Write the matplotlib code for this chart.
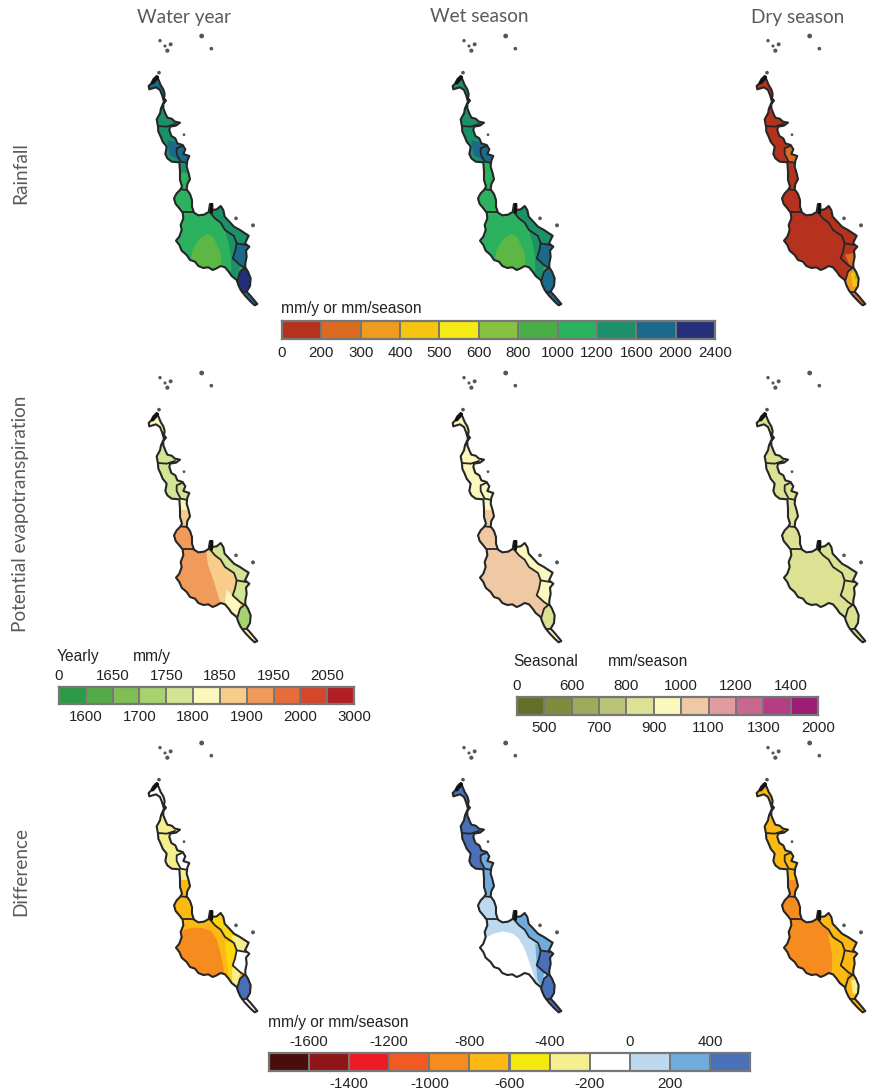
import matplotlib
matplotlib.use("Agg")
import matplotlib.pyplot as plt
from matplotlib.patches import Polygon

W, H = 874, 1090

# legend classes
rain_bounds = ["0", "200", "300", "400", "500", "600", "800", "1000", "1200", "1600", "2000", "2400"]
rain_cols = ["#b5321f", "#dc6b22", "#ee9b1e", "#f7c510", "#f5ea14", "#86c23f", "#49ae47", "#2cb15e", "#1c9068", "#1b6a8c", "#232f78"]
year_bounds = ["0", "1600", "1650", "1700", "1750", "1800", "1850", "1900", "1950", "2000", "2050", "3000"]
year_cols = ["#2b9b46", "#55ab47", "#7fbd55", "#a8d16f", "#d3e495", "#fbf8bd", "#f8cc8a", "#f09a5c", "#e56d3c", "#d4472a", "#b31e23"]
seas_bounds = ["0", "500", "600", "700", "800", "900", "1000", "1100", "1200", "1300", "1400", "2000"]
seas_cols = ["#666f2a", "#7f8b3f", "#9cab5c", "#bac377", "#dde193", "#fbf8bd", "#efc9a4", "#e29b9e", "#ca678e", "#b43d86", "#9c1d74"]
diff_bounds = ["", "-1600", "-1400", "-1200", "-1000", "-800", "-600", "-400", "-200", "0", "200", "400", ""]
diff_cols = ["#4a0c0c", "#8f1616", "#ed1c24", "#f15a22", "#f68b1f", "#fdb913", "#f6e90f", "#f6ef8f", "#ffffff", "#bcd9f0", "#6fabdd", "#4a70b8"]

# catchment outline
outline = [(80,138),(86,150),(92,165),(100,178),(104,192),(102,205),(108,212),(100,222),(100,235),(106,250),
           (112,263),(125,266),(135,275),(150,278),(138,287),(120,290),(118,300),(124,318),(136,325),(142,340),
           (158,345),(166,358),(160,372),(178,378),(172,392),(170,410),(176,430),(180,448),(172,462),(170,478),
           (180,492),(186,510),(186,530),(192,548),(205,556),(222,554),(236,546),(240,522),(247,522),(247,540),
           (260,538),(272,528),(280,540),(284,560),(298,575),(312,590),(330,600),(342,608),(356,617),(345,640),
           (358,650),(348,662),(350,680),(346,700),(346,712),(354,725),(362,745),(360,768),(350,785),(362,798),
           (372,810),(382,822),(374,826),(362,815),(345,797),(332,780),(325,765),(320,750),(305,738),(296,725),
           (285,712),(272,708),(258,716),(248,720),(235,712),(220,714),(205,708),(195,695),(180,690),(170,675),
           (155,662),(148,645),(138,632),(148,620),(155,600),(152,585),(160,565),(158,548),(148,535),(137,522),
           (132,505),(140,490),(150,480),(156,470),(150,450),(150,425),(148,397),(125,395),(112,385),(106,372),
           (110,350),(98,335),(92,320),(85,305),(84,290),(80,268),(90,250),(93,235),(102,215),(96,195),
           (90,180),(78,172),(58,178),(56,168),(64,160),(70,148)]
inner_lines = [[(85,288),(110,290),(135,282)],
               [(158,347),(140,355),(140,372),(152,395),(168,398)],
               [(153,478),(170,480)],
               [(160,545),(190,545)],
               [(238,545),(255,565),(272,578),(285,600),(312,618),(320,640),(315,665),(308,685),(330,705),(345,715)],
               [(320,640),(348,645)],
               [(322,752),(330,725),(345,712)],
               [(335,785),(352,785)]]
islands_x = [90, 105, 122, 112, 215, 244, 87, 162, 318, 369]
islands_y = [32, 48, 43, 62, 18, 56, 128, 314, 565, 586]
islands_s = [6, 5, 8, 9, 12, 7, 7, 4, 7, 8]

# zones the map is coloured by
zones = {
    "top": [(40,120),(125,120),(125,212),(40,212)],
    "up": [(60,212),(160,212),(160,288),(60,288)],
    "mid": [(60,288),(185,288),(185,400),(60,400)],
    "mid_patch": [(112,332),(150,340),(158,347),(140,372),(145,390),(120,375)],
    "mid_r": [(158,347),(140,355),(140,372),(152,395),(168,398),(185,370),(170,340)],
    "neck": [(130,396),(190,396),(190,478),(130,478)],
    "neck_low": [(130,430),(190,430),(190,478),(130,478)],
    "lobe": [(120,478),(200,478),(200,546),(120,546)],
    "main": [(120,546),(238,546),(255,565),(272,578),(285,600),(312,618),(320,640),(315,665),(308,685),(330,705),(345,715),(330,725),(322,755),(120,760)],
    "east1": [(236,515),(238,545),(255,565),(272,578),(285,600),(312,618),(320,640),(348,645),(370,620),(300,515)],
    "east1_low": [(305,596),(362,610),(350,646),(320,640),(312,618)],
    "east2": [(320,640),(315,665),(308,685),(330,705),(345,715),(370,715),(370,640)],
    "east2_patch": [(322,675),(345,670),(350,712),(335,705)],
    "tip": [(345,712),(330,725),(320,755),(335,785),(355,785),(375,720)],
    "tip_core": [(340,730),(360,725),(360,770),(345,770)],
    "tip_spot": [(350,728),(360,728),(360,748),(350,748)],
    "end": [(335,785),(355,785),(395,835),(370,835)],
    "rain_core": [(230,612),(250,622),(272,670),(274,712),(220,716),(185,685),(188,660),(208,628)],
    "rain_east": [(285,600),(315,620),(320,640),(308,685),(330,705),(322,745),(304,735),(304,680),(297,640)],
    "pet_west": [(120,546),(228,546),(232,590),(250,640),(268,700),(280,725),(120,760)],
    "pet_east": [(290,670),(310,690),(330,710),(325,745),(305,732),(285,710)],
    "diff_core": [(165,578),(190,573),(215,573),(242,582),(258,605),(268,635),(276,675),(285,722),(120,760),(120,620)],
    "diff_east": [(285,612),(312,620),(320,640),(308,685),(330,707),(322,745),(300,732),(292,680)],
    "diff_edge": [(308,692),(330,707),(322,748),(306,735)],
    "wet_core": [(125,640),(153,604),(180,590),(208,584),(235,590),(253,604),(268,630),(278,654),(302,725),(120,760)],
    "wet_east": [(305,620),(320,640),(308,685),(330,705),(322,748),(310,725)],
    "dry_east": [(270,590),(290,610),(315,620),(320,640),(308,685),(330,705),(322,748),(300,730),(282,715),(283,650)],
}

# (zone, colour) painted in this order, one list per map
rain_year = [("top", rain_cols[9]), ("up", rain_cols[8]), ("mid", rain_cols[8]), ("mid_patch", rain_cols[9]), ("mid_r", rain_cols[9]),
             ("neck", rain_cols[8]), ("neck_low", rain_cols[7]), ("lobe", rain_cols[7]), ("main", rain_cols[7]), ("rain_core", "#5cb744"), ("rain_east", rain_cols[8]),
             ("east1", rain_cols[8]), ("east2", rain_cols[9]), ("tip", rain_cols[10]), ("end", rain_cols[9])]
rain_wet = [("top", rain_cols[8]), ("up", rain_cols[8]), ("mid", rain_cols[8]), ("mid_patch", rain_cols[9]), ("mid_r", rain_cols[9]),
            ("neck", rain_cols[7]), ("lobe", rain_cols[7]), ("main", rain_cols[7]), ("rain_core", "#5cb744"), ("rain_east", rain_cols[8]),
            ("east1", rain_cols[8]), ("east2", rain_cols[9]), ("tip", rain_cols[9]), ("end", rain_cols[9])]
rain_dry = [("top", rain_cols[0]), ("up", rain_cols[0]), ("mid", rain_cols[0]), ("mid_r", rain_cols[1]), ("neck", rain_cols[0]),
            ("lobe", rain_cols[0]), ("main", rain_cols[0]), ("east1", rain_cols[0]), ("east2", rain_cols[0]), ("east2_patch", rain_cols[1]),
            ("tip", rain_cols[2]), ("tip_core", rain_cols[3]), ("tip_spot", rain_cols[5]), ("end", rain_cols[1])]
pet_year = [("top", year_cols[5]), ("up", year_cols[4]), ("mid", year_cols[4]), ("neck", year_cols[5]), ("neck_low", year_cols[6]),
            ("lobe", year_cols[7]), ("main", year_cols[6]), ("pet_west", year_cols[7]), ("pet_east", year_cols[5]),
            ("east1", year_cols[4]), ("east2", year_cols[4]), ("tip", year_cols[3]), ("end", year_cols[5])]
pet_wet = [("top", seas_cols[5]), ("up", seas_cols[5]), ("mid", seas_cols[5]), ("neck", seas_cols[5]), ("neck_low", seas_cols[6]),
           ("lobe", seas_cols[6]), ("main", seas_cols[6]), ("east1", seas_cols[5]), ("east2", seas_cols[5]), ("tip", seas_cols[4]), ("end", seas_cols[5])]
pet_dry = [("top", seas_cols[4]), ("up", seas_cols[4]), ("mid", seas_cols[4]), ("neck", seas_cols[4]), ("lobe", seas_cols[4]),
           ("main", seas_cols[4]), ("east1", seas_cols[4]), ("east2", seas_cols[4]), ("tip", seas_cols[4]), ("end", seas_cols[4])]
diff_year = [("top", diff_cols[8]), ("up", diff_cols[7]), ("mid", diff_cols[7]), ("mid_r", diff_cols[8]), ("neck", diff_cols[7]), ("neck_low", diff_cols[5]),
             ("lobe", diff_cols[5]), ("main", diff_cols[5]), ("diff_core", diff_cols[4]), ("diff_east", "#fbd60f"), ("diff_edge", diff_cols[7]),
             ("east1", "#fbd60f"), ("east1_low", diff_cols[7]), ("east2", diff_cols[8]), ("tip", diff_cols[11]), ("end", diff_cols[8])]
diff_wet = [("top", diff_cols[11]), ("up", diff_cols[11]), ("mid", diff_cols[11]), ("mid_r", diff_cols[10]), ("neck", diff_cols[10]),
            ("lobe", diff_cols[9]), ("main", diff_cols[9]), ("wet_core", diff_cols[8]), ("wet_east", diff_cols[10]),
            ("east1", diff_cols[10]), ("east2", diff_cols[11]), ("tip", diff_cols[11]), ("end", diff_cols[11])]
diff_dry = [("top", diff_cols[5]), ("up", diff_cols[5]), ("mid", diff_cols[5]), ("neck", diff_cols[5]), ("neck_low", diff_cols[4]),
            ("lobe", diff_cols[4]), ("main", diff_cols[4]), ("dry_east", diff_cols[5]), ("east1", diff_cols[5]), ("east2", diff_cols[5]),
            ("tip", diff_cols[5]), ("tip_core", diff_cols[7]), ("end", diff_cols[5])]

col_titles = ["Water year", "Wet season", "Dry season"]
col_title_x = [184, 479, 798]
row_titles = ["Rainfall", "Potential evapotranspiration", "Difference"]
row_title_y = [173, 514, 872]

fig = plt.figure(figsize=(W / 100, H / 100), dpi=100)


def px_axes(x, y, w, h):
    # axes placed by pixel box, y counted from the top like the picture
    return fig.add_axes([x / W, 1 - (y + h) / H, w / W, h / H])


def draw_map(x, y, fills):
    ax = px_axes(x, y, 150, 290)
    ax.set_xlim(0, 450)
    ax.set_ylim(870, 0)
    ax.axis("off")
    clip = Polygon(outline, closed=True, fc="none", ec="none")
    ax.add_patch(clip)
    for name, col in fills:
        p = Polygon(zones[name], closed=True, fc=col, ec=col, lw=0.3)
        ax.add_patch(p)
        p.set_clip_path(clip)
    ax.add_patch(Polygon(outline, closed=True, fc="none", ec="#262626", lw=1.5, joinstyle="round"))
    for line in inner_lines:
        ax.plot([p[0] for p in line], [p[1] for p in line], color="#262626", lw=1.3, solid_capstyle="round")
    # dark clumps at the head and on the ridge
    ax.plot([68, 82], [158, 142], color="#111111", lw=2.6, solid_capstyle="round")
    ax.plot([242, 242], [522, 545], color="#111111", lw=2.2, solid_capstyle="round")
    ax.scatter(islands_x, islands_y, s=islands_s, color="#555555", lw=0)


def draw_key(x, y, w, h, cols, bounds, two_rows=False, first_top=True):
    ax = px_axes(x, y, w, h)
    pos = list(range(len(cols)))
    ax.bar(pos, [1] * len(cols), width=1, align="edge", color=cols, edgecolor="#777777", lw=1.4)
    ax.set_xlim(0, len(cols))
    ax.set_ylim(0, 1)
    ax.set_yticks([])
    for s in ax.spines.values():
        s.set_color("#777777")
        s.set_linewidth(1.6)
    ticks = list(range(len(bounds)))
    if two_rows:
        top = [t for t in ticks if (t % 2 == 0) == first_top and bounds[t]]
        low = [t for t in ticks if (t % 2 == 0) != first_top and bounds[t]]
        ax.set_xticks(low, [bounds[t] for t in low], family="Liberation Sans", fontsize=10.9, color="#222222")
        ax.set_xticks(top, [bounds[t] for t in top], minor=True, family="Liberation Sans", fontsize=10.9, color="#222222")
        ax.tick_params(axis="x", which="major", length=0, pad=4)
        ax.tick_params(axis="x", which="minor", length=0, pad=3, top=False, bottom=False, labeltop=True, labelbottom=False)
    else:
        ax.set_xticks(ticks, bounds, family="Liberation Sans", fontsize=10.9, color="#222222")
        ax.tick_params(axis="x", length=0, pad=5)


def note(x, y, s):
    fig.text(x / W, 1 - y / H, s, family="Liberation Sans", fontsize=11.2, color="#222222", va="center")


maps = [[rain_year, rain_wet, rain_dry], [pet_year, pet_wet, pet_dry], [diff_year, diff_wet, diff_dry]]
col_dx = [130, 434, 738]
row_dy = [30, 367, 737]
for r in range(3):
    for c in range(3):
        draw_map(col_dx[c], row_dy[r], maps[r][c])

for s, x in zip(col_titles, col_title_x):
    fig.text(x / W, 1 - 17 / H, s, family="Lato", fontsize=13.7, color="#5a5a5a", ha="center", va="center")
for s, y in zip(row_titles, row_title_y):
    fig.text(21 / W, 1 - y / H, s, family="Lato", fontsize=13.7, color="#5a5a5a", rotation=90, ha="center", va="center")

draw_key(282, 321, 433, 18, rain_cols, rain_bounds)
draw_key(59, 687, 295, 17, year_cols, year_bounds, two_rows=True)
draw_key(517, 697, 301, 18, seas_cols, seas_bounds, two_rows=True)
draw_key(269, 1053, 481, 18, diff_cols, diff_bounds, two_rows=True, first_top=False)

note(281, 309, "mm/y or mm/season")
note(57, 657, "Yearly")
note(133, 657, "mm/y")
note(513, 662, "Seasonal")
note(608, 662, "mm/season")
note(268, 1022, "mm/y or mm/season")

fig.savefig("out.png", dpi=100)
